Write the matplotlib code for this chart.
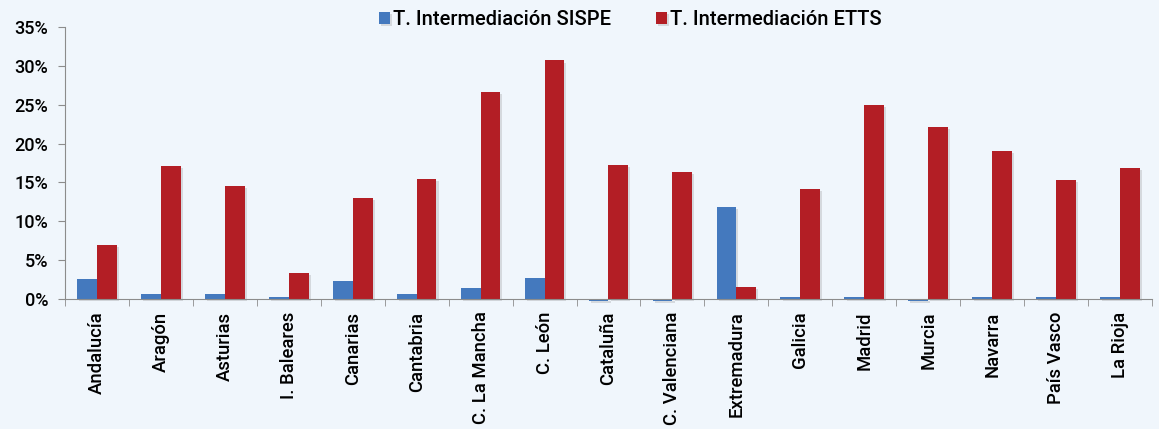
import matplotlib
matplotlib.use('Agg')
import matplotlib.pyplot as plt
import matplotlib.patheffects as pe
import numpy as np
from matplotlib.ticker import FuncFormatter, FixedLocator

regions = ['Andalucía', 'Aragón', 'Asturias', 'I. Baleares', 'Canarias', 'Cantabria',
           'C. La Mancha', 'C. León', 'Cataluña', 'C. Valenciana', 'Extremadura',
           'Galicia', 'Madrid', 'Murcia', 'Navarra', 'País Vasco', 'La Rioja']
sispe = [2.6, 0.6, 0.6, 0.3, 2.3, 0.6, 1.4, 2.7, -0.2, -0.2, 11.8,
         0.3, 0.3, -0.2, 0.3, 0.3, 0.3]
etts = [6.9, 17.1, 14.6, 3.3, 13.0, 15.5, 26.6, 30.7, 17.3, 16.4, 1.5,
        14.2, 25.0, 22.1, 19.1, 15.3, 16.9]

bg = '#f0f6fc'
blue = '#4479be'
red = '#b31e25'

plt.rcParams['font.family'] = ['Roboto', 'DejaVu Sans']
plt.rcParams['font.weight'] = 'medium'

fig = plt.figure(figsize=(11.59, 4.29), dpi=100, facecolor=bg)
ax = fig.add_axes([0.056, 0.303, 0.938, 0.634], facecolor=bg)

x = np.arange(len(regions))
w = 0.31
shadow = [pe.SimplePatchShadow(offset=(1.5, -1.5), shadow_rgbFace='#999999', alpha=0.3), pe.Normal()]
b1 = ax.bar(x - w / 2, sispe, w, color=blue, label='T. Intermediación SISPE', clip_on=False, zorder=3)
b2 = ax.bar(x + w / 2, etts, w, color=red, label='T. Intermediación ETTS', clip_on=False, zorder=3)
for b in list(b1) + list(b2):
    b.set_path_effects(shadow)

ax.set_xlim(-0.5, len(regions) - 0.5)
ax.set_ylim(0, 35)
ax.set_yticks(np.arange(0, 36, 5))
ax.yaxis.set_major_formatter(FuncFormatter(lambda v, p: '%d%%' % v))
ax.set_xticks(x)
ax.set_xticklabels(regions, rotation=90)
ax.xaxis.set_minor_locator(FixedLocator(np.arange(-0.5, len(regions), 1)))
ax.tick_params(axis='x', which='major', length=0, pad=9, labelsize=13.3)
ax.tick_params(axis='x', which='minor', length=5, color='#8c8c8c', direction='out')
ax.tick_params(axis='y', length=5, color='#8c8c8c', labelsize=13, pad=7)

for s in ['top', 'right']:
    ax.spines[s].set_visible(False)
ax.spines['left'].set_color('#8c8c8c')
ax.spines['bottom'].set_color('#8c8c8c')
ax.spines['bottom'].set_zorder(4)

leg = ax.legend(loc='upper center', bbox_to_anchor=(0.52, 1.13), ncol=2, frameon=False,
                fontsize=14.5, handlelength=0.55, handleheight=0.55, handletextpad=0.15,
                columnspacing=2.2)

plt.savefig('out.png', dpi=100, facecolor=bg)
